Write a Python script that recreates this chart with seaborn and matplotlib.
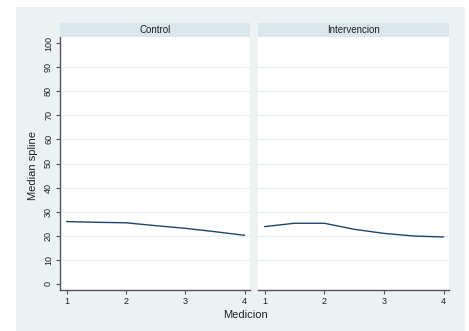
import matplotlib
matplotlib.use("Agg")
import matplotlib.pyplot as plt
from matplotlib.patches import Rectangle
import seaborn as sns
import pandas as pd

# Median spline of the outcome by measurement occasion, one panel per group
medicion = [1, 1.5, 2, 2.5, 3, 3.5, 4]
control = [25.9, 25.6, 25.4, 24.2, 23.1, 21.7, 20.2]
intervencion = [23.8, 25.2, 25.2, 22.7, 21.0, 19.9, 19.5]
groups = ["Control", "Intervencion"]
y_ticks = [0, 10, 20, 30, 40, 50, 60, 70, 80, 90, 100]
x_ticks = [1, 2, 3, 4]

df = pd.DataFrame({
    "Medicion": medicion * 2,
    "Median spline": control + intervencion,
    "grupo": [groups[0]] * len(medicion) + [groups[1]] * len(medicion),
})

sns.set_style("white")
plt.rcParams["font.family"] = ["Liberation Sans", "DejaVu Sans"]

W, H = 469, 331
fig = plt.figure(figsize=(W / 100, H / 100), dpi=100)
fig.patch.set_facecolor("white")
fig.patches.append(Rectangle((16 / W, 0), 449 / W, 324 / H, transform=fig.transFigure,
                             facecolor="#eaf2f3", edgecolor="none", zorder=-5))

line_color = "#1a476f"
grid_color = "#eaf2f3"
strip_color = "#d9e6eb"
axis_color = "#555555"

lefts = [60, 258]
widths = [190, 191]
ax_bottom, ax_top = 290, 37
for i, g in enumerate(groups):
    ax = fig.add_axes([lefts[i] / W, 1 - ax_bottom / H, widths[i] / W, (ax_bottom - ax_top) / H])
    ax.set_facecolor("white")
    sns.lineplot(data=df[df["grupo"] == g], x="Medicion", y="Median spline", ax=ax,
                 color=line_color, linewidth=1.0, legend=False)
    ax.set_xlim(0.89, 4.09)
    ax.set_ylim(-2.5, 102.5)
    for v in y_ticks[1:-1]:
        ax.axhline(v, color=grid_color, linewidth=1.0, zorder=0)
    ax.set_xticks(x_ticks)
    ax.set_xticklabels([str(t) for t in x_ticks], fontsize=6.5, color="#222222")
    ax.tick_params(axis="x", direction="out", length=3, width=0.8, color=axis_color, pad=2, bottom=True)
    for s in ["top", "right"]:
        ax.spines[s].set_visible(False)
    ax.spines["bottom"].set_color(axis_color)
    ax.spines["bottom"].set_linewidth(1.0)
    ax.set_xlabel("")
    ax.set_ylabel("")
    if i == 0:
        ax.set_yticks(y_ticks)
        ax.set_yticklabels([str(t) for t in y_ticks], fontsize=6.5, rotation=90,
                           va="center", color="#222222")
        ax.tick_params(axis="y", direction="out", length=3, width=0.8, color=axis_color, pad=2, left=True)
        ax.spines["left"].set_color(axis_color)
        ax.spines["left"].set_linewidth(1.0)
    else:
        ax.set_yticks([])
        ax.spines["left"].set_visible(False)
    # facet header strip
    fig.patches.append(Rectangle((lefts[i] / W, 1 - 37 / H), widths[i] / W, 14 / H,
                                 transform=fig.transFigure, facecolor=strip_color,
                                 edgecolor="none", zorder=1))
    fig.text((lefts[i] + widths[i] / 2) / W, 1 - 30 / H, g, ha="center", va="center",
             fontsize=7, color="#222222")

fig.text(245 / W, 1 - 315 / H, "Medicion", ha="center", va="center", fontsize=8, color="#222222")
fig.text(33 / W, 1 - 165 / H, "Median spline", ha="center", va="center", rotation=90,
         fontsize=8, color="#222222")

fig.savefig("out.png", dpi=100, facecolor=fig.get_facecolor())
